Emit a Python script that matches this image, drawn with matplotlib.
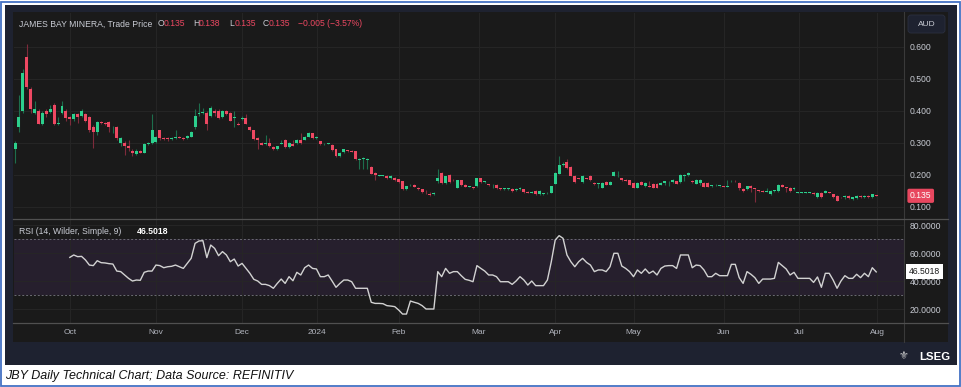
import matplotlib.pyplot as plt
import matplotlib.transforms as mtransforms
from matplotlib.patches import Rectangle, FancyBboxPatch
from matplotlib.lines import Line2D
import numpy as np

plt.rcParams['font.family'] = ['Liberation Sans', 'DejaVu Sans']

# Daily candles (AUD), one per trading day
opens = [0.280, 0.350, 0.400, 0.570, 0.470, 0.395, 0.400, 0.360, 0.400, 0.397,
         0.420, 0.358, 0.395, 0.400, 0.380, 0.374, 0.390, 0.384, 0.390, 0.380,
         0.350, 0.335, 0.367, 0.362, 0.367, 0.349, 0.350, 0.300, 0.300, 0.290,
         0.275, 0.265, 0.275, 0.270, 0.297, 0.300, 0.302, 0.340, 0.317, 0.315,
         0.313, 0.316, 0.320, 0.317, 0.315, 0.320, 0.350, 0.390, 0.395, 0.395,
         0.385, 0.400, 0.400, 0.380, 0.400, 0.395, 0.378, 0.360, 0.376, 0.377,
         0.350, 0.340, 0.316, 0.300, 0.296, 0.300, 0.287, 0.280, 0.298, 0.310,
         0.287, 0.297, 0.300, 0.310, 0.310, 0.320, 0.330, 0.315, 0.305, 0.296,
         0.298, 0.295, 0.280, 0.258, 0.272, 0.276, 0.276, 0.274, 0.248, 0.250,
         0.248, 0.225, 0.206, 0.198, 0.198, 0.197, 0.190, 0.192, 0.186, 0.180,
         0.155, 0.168, 0.170, 0.160, 0.155, 0.145, 0.142, 0.140, 0.180, 0.206,
         0.175, 0.200, 0.185, 0.160, 0.183, 0.170, 0.163, 0.162, 0.165, 0.190,
         0.178, 0.171, 0.168, 0.170, 0.158, 0.156, 0.156, 0.157, 0.152, 0.156,
         0.155, 0.147, 0.145, 0.150, 0.141, 0.141, 0.143, 0.145, 0.173, 0.204,
         0.230, 0.240, 0.225, 0.198, 0.190, 0.178, 0.190, 0.198, 0.175, 0.172,
         0.160, 0.178, 0.170, 0.198, 0.205, 0.190, 0.184, 0.183, 0.175, 0.160,
         0.178, 0.165, 0.166, 0.173, 0.173, 0.170, 0.175, 0.177, 0.178, 0.180,
         0.178, 0.198, 0.200, 0.180, 0.173, 0.176, 0.176, 0.175, 0.166, 0.168,
         0.165, 0.165, 0.164, 0.180, 0.181, 0.175, 0.157, 0.155, 0.166, 0.158,
         0.152, 0.150, 0.148, 0.140, 0.150, 0.150, 0.170, 0.162, 0.160, 0.155,
         0.145, 0.145, 0.145, 0.145, 0.145, 0.130, 0.145, 0.145, 0.145, 0.140,
         0.135, 0.130, 0.130, 0.134, 0.125, 0.128, 0.134, 0.130, 0.134, 0.130,
         0.135]
highs = [0.305, 0.450, 0.530, 0.610, 0.475, 0.430, 0.405, 0.400, 0.405, 0.420,
         0.425, 0.380, 0.430, 0.405, 0.385, 0.395, 0.395, 0.405, 0.395, 0.385,
         0.355, 0.370, 0.370, 0.366, 0.370, 0.352, 0.352, 0.320, 0.305, 0.310,
         0.280, 0.280, 0.278, 0.300, 0.303, 0.390, 0.322, 0.342, 0.320, 0.318,
         0.318, 0.340, 0.323, 0.320, 0.325, 0.338, 0.405, 0.425, 0.410, 0.400,
         0.415, 0.405, 0.405, 0.402, 0.402, 0.398, 0.400, 0.366, 0.383, 0.390,
         0.352, 0.342, 0.318, 0.302, 0.325, 0.315, 0.290, 0.292, 0.310, 0.312,
         0.302, 0.310, 0.312, 0.330, 0.322, 0.333, 0.332, 0.322, 0.307, 0.300,
         0.300, 0.297, 0.282, 0.272, 0.282, 0.278, 0.278, 0.276, 0.252, 0.255,
         0.252, 0.228, 0.208, 0.201, 0.201, 0.199, 0.199, 0.194, 0.188, 0.182,
         0.167, 0.171, 0.172, 0.162, 0.157, 0.152, 0.147, 0.147, 0.220, 0.210,
         0.198, 0.202, 0.187, 0.185, 0.185, 0.172, 0.167, 0.164, 0.192, 0.192,
         0.182, 0.173, 0.172, 0.172, 0.160, 0.160, 0.160, 0.159, 0.158, 0.161,
         0.157, 0.149, 0.149, 0.152, 0.152, 0.144, 0.147, 0.167, 0.208, 0.260,
         0.240, 0.250, 0.227, 0.200, 0.192, 0.200, 0.192, 0.200, 0.177, 0.176,
         0.177, 0.180, 0.180, 0.212, 0.212, 0.192, 0.186, 0.185, 0.177, 0.177,
         0.180, 0.177, 0.180, 0.175, 0.175, 0.177, 0.182, 0.181, 0.187, 0.182,
         0.202, 0.202, 0.208, 0.183, 0.187, 0.187, 0.178, 0.177, 0.170, 0.172,
         0.167, 0.167, 0.185, 0.183, 0.183, 0.177, 0.159, 0.167, 0.168, 0.160,
         0.154, 0.152, 0.158, 0.152, 0.153, 0.172, 0.172, 0.164, 0.162, 0.162,
         0.147, 0.147, 0.147, 0.147, 0.147, 0.147, 0.147, 0.152, 0.146, 0.142,
         0.137, 0.131, 0.136, 0.136, 0.132, 0.137, 0.136, 0.136, 0.136, 0.142,
         0.138]
lows = [0.237, 0.335, 0.395, 0.470, 0.395, 0.390, 0.358, 0.355, 0.380, 0.395,
        0.355, 0.355, 0.390, 0.370, 0.355, 0.370, 0.362, 0.380, 0.365, 0.335,
        0.284, 0.325, 0.360, 0.355, 0.335, 0.330, 0.310, 0.290, 0.263, 0.275,
        0.260, 0.262, 0.268, 0.268, 0.295, 0.298, 0.300, 0.310, 0.308, 0.305,
        0.308, 0.312, 0.315, 0.310, 0.313, 0.318, 0.345, 0.385, 0.392, 0.340,
        0.380, 0.385, 0.375, 0.378, 0.388, 0.368, 0.350, 0.355, 0.372, 0.358,
        0.338, 0.310, 0.280, 0.293, 0.294, 0.288, 0.278, 0.278, 0.296, 0.285,
        0.285, 0.290, 0.298, 0.298, 0.308, 0.318, 0.313, 0.313, 0.295, 0.294,
        0.296, 0.275, 0.255, 0.256, 0.270, 0.273, 0.271, 0.248, 0.220, 0.220,
        0.220, 0.202, 0.185, 0.196, 0.196, 0.188, 0.188, 0.182, 0.176, 0.152,
        0.153, 0.166, 0.161, 0.154, 0.145, 0.140, 0.135, 0.138, 0.176, 0.173,
        0.173, 0.176, 0.181, 0.158, 0.166, 0.161, 0.161, 0.157, 0.163, 0.176,
        0.176, 0.167, 0.160, 0.155, 0.154, 0.154, 0.154, 0.147, 0.150, 0.154,
        0.144, 0.143, 0.143, 0.139, 0.139, 0.139, 0.141, 0.143, 0.171, 0.202,
        0.228, 0.220, 0.196, 0.176, 0.186, 0.176, 0.186, 0.181, 0.170, 0.160,
        0.158, 0.168, 0.168, 0.196, 0.193, 0.181, 0.180, 0.168, 0.158, 0.158,
        0.168, 0.163, 0.162, 0.158, 0.158, 0.168, 0.170, 0.166, 0.176, 0.171,
        0.176, 0.180, 0.198, 0.175, 0.171, 0.168, 0.161, 0.161, 0.164, 0.166,
        0.163, 0.163, 0.162, 0.178, 0.178, 0.153, 0.147, 0.153, 0.148, 0.115,
        0.148, 0.146, 0.146, 0.138, 0.148, 0.148, 0.161, 0.148, 0.148, 0.153,
        0.144, 0.144, 0.144, 0.144, 0.138, 0.128, 0.128, 0.143, 0.144, 0.128,
        0.118, 0.129, 0.125, 0.125, 0.123, 0.126, 0.128, 0.128, 0.129, 0.128,
        0.135]
closes = [0.300, 0.380, 0.520, 0.475, 0.405, 0.405, 0.360, 0.395, 0.390, 0.405,
          0.360, 0.362, 0.415, 0.377, 0.374, 0.390, 0.380, 0.400, 0.370, 0.340,
          0.335, 0.367, 0.362, 0.358, 0.350, 0.351, 0.315, 0.317, 0.290, 0.283,
          0.270, 0.275, 0.270, 0.297, 0.300, 0.340, 0.320, 0.315, 0.313, 0.312,
          0.316, 0.320, 0.317, 0.312, 0.322, 0.335, 0.385, 0.395, 0.398, 0.360,
          0.410, 0.395, 0.377, 0.400, 0.390, 0.370, 0.380, 0.357, 0.378, 0.360,
          0.340, 0.313, 0.310, 0.295, 0.300, 0.290, 0.280, 0.290, 0.300, 0.287,
          0.300, 0.292, 0.310, 0.300, 0.320, 0.330, 0.315, 0.320, 0.297, 0.298,
          0.299, 0.277, 0.258, 0.270, 0.280, 0.275, 0.273, 0.250, 0.250, 0.253,
          0.250, 0.204, 0.199, 0.200, 0.200, 0.190, 0.197, 0.185, 0.178, 0.155,
          0.165, 0.170, 0.163, 0.156, 0.147, 0.143, 0.138, 0.145, 0.190, 0.175,
          0.196, 0.178, 0.183, 0.183, 0.168, 0.163, 0.165, 0.159, 0.190, 0.178,
          0.180, 0.169, 0.170, 0.158, 0.156, 0.158, 0.158, 0.150, 0.156, 0.159,
          0.146, 0.145, 0.147, 0.141, 0.150, 0.142, 0.145, 0.165, 0.206, 0.230,
          0.233, 0.222, 0.198, 0.178, 0.188, 0.198, 0.188, 0.183, 0.172, 0.174,
          0.175, 0.170, 0.178, 0.210, 0.207, 0.183, 0.182, 0.170, 0.160, 0.175,
          0.170, 0.175, 0.164, 0.160, 0.160, 0.175, 0.180, 0.179, 0.185, 0.173,
          0.200, 0.200, 0.206, 0.177, 0.185, 0.185, 0.163, 0.163, 0.168, 0.170,
          0.166, 0.164, 0.166, 0.181, 0.180, 0.160, 0.150, 0.165, 0.160, 0.156,
          0.150, 0.148, 0.150, 0.150, 0.151, 0.170, 0.163, 0.160, 0.150, 0.160,
          0.146, 0.146, 0.146, 0.146, 0.140, 0.145, 0.130, 0.150, 0.145, 0.130,
          0.120, 0.130, 0.134, 0.128, 0.130, 0.135, 0.130, 0.134, 0.131, 0.140,
          0.135]

# RSI(14), starts on the 15th candle
rsi_start = 14
rsi = [56.9, 58.6, 57.4, 57.6, 55.0, 51.4, 51.0, 54.5, 53.1, 52.9,
       52.4, 52.1, 47.1, 46.7, 44.3, 41.9, 40.0, 40.7, 40.5, 46.2,
       47.1, 47.1, 51.4, 51.0, 49.5, 50.2, 50.5, 51.4, 50.2, 49.0,
       52.6, 56.2, 66.9, 68.6, 68.8, 56.7, 65.7, 63.3, 58.1, 61.0,
       58.6, 53.8, 55.7, 50.7, 52.6, 49.0, 45.5, 41.2, 40.0, 37.6,
       37.6, 36.7, 34.8, 38.3, 41.4, 38.3, 43.1, 40.2, 46.2, 44.3,
       49.5, 51.4, 49.0, 48.6, 43.1, 43.1, 44.3, 40.0, 35.5, 38.3,
       40.7, 40.7, 39.5, 34.8, 34.8, 34.8, 34.8, 24.8, 24.0, 24.0,
       23.8, 22.4, 22.1, 21.7, 19.3, 16.4, 16.4, 25.7, 24.8, 24.0,
       22.4, 20.0, 20.0, 20.0, 46.7, 43.1, 49.0, 45.5, 46.7, 46.7,
       43.8, 41.2, 40.5, 39.5, 51.0, 49.0,
       47.1, 44.3, 44.3, 43.1, 39.5, 39.5, 39.5, 37.6, 40.0, 43.1,
       40.7, 37.1, 40.0, 36.7, 36.7, 36.7, 40.7, 53.8, 69.3, 72.4,
       70.5, 58.6, 53.8, 50.2, 53.8, 56.2, 53.3, 51.4, 46.7, 47.9,
       47.9, 46.7, 50.2, 59.8, 59.8, 50.7, 49.0, 46.7, 43.1, 47.9,
       45.5, 48.6, 45.5, 47.1, 44.3, 49.0, 50.7, 51.0, 51.0, 49.0,
       58.6, 58.6, 58.6, 49.5, 51.4, 51.0, 47.9, 43.1, 43.1, 45.5,
       43.8, 43.8, 43.8, 51.9, 51.9, 42.4, 38.3, 46.7, 44.8, 42.4,
       38.3, 41.4, 41.4, 41.4, 41.9, 53.3, 51.0, 48.6, 44.3, 46.2,
       41.9, 41.9, 41.9, 41.9, 39.0, 42.9, 35.5, 45.5, 45.5, 40.7,
       34.8, 40.0, 43.8, 41.9, 41.9, 44.8, 42.4, 45.5, 43.1, 49.5,
       46.5018]

month_labels = ["Oct", "Nov", "Dec", "2024", "Feb", "Mar", "Apr", "May", "Jun", "Jul", "Aug"]
month_pos = [14.0, 36.0, 58.0, 77.1, 98.1, 118.5, 138.0, 158.0, 181.0, 200.4, 220.2]

price_ticks = [0.1, 0.2, 0.3, 0.4, 0.5, 0.6]
rsi_ticks = [20, 40, 60, 80]

# colours
panel = "#1a1a1a"
frame = "#1e2230"
grid_c = "#262626"
text_c = "#c9ccd4"
green, red = "#2ccf8d", "#ee4862"
green_w, red_w = "#1d6e4d", "#7e2b3b"

W, H = 962, 387
fig = plt.figure(figsize=(W / 100, H / 100), dpi=100)
fig.patch.set_facecolor("white")
# pixel coordinates, y downwards
T = mtransforms.Affine2D().scale(1 / W, -1 / H).translate(0, 1) + fig.transFigure


def px_rect(x0, y0, x1, y1, **kw):
    r = Rectangle((x0, y0), x1 - x0, y1 - y0, transform=T, **kw)
    fig.add_artist(r)


def px_line(x0, y0, x1, y1, **kw):
    fig.add_artist(Line2D([x0, x1], [y0, y1], transform=T, **kw))


def px_text(x, y, s, **kw):
    fig.text(x, y, s, transform=T, **kw)


px_rect(5, 5, 957, 365, facecolor=frame, edgecolor="none", zorder=-10)
px_rect(13, 12, 948, 342, facecolor=panel, edgecolor="none", zorder=-9)
px_rect(1.5, 1.5, 960, 385.5, facecolor="none", edgecolor="#4472c4", lw=1.3, zorder=10)

ax1 = fig.add_axes([14 / W, 1 - 219 / H, 890 / W, 206 / H])
ax2 = fig.add_axes([14 / W, 1 - 323 / H, 890 / W, 104 / H], sharex=ax1)

for ax in (ax1, ax2):
    ax.set_facecolor(panel)
    for s in ax.spines.values():
        s.set_visible(False)
    ax.yaxis.tick_right()
    ax.tick_params(axis="both", length=0, labelsize=6.2, labelcolor=text_c)
    ax.tick_params(axis="y", pad=4.3)
    ax.set_xticks(month_pos)
    ax.grid(True, color=grid_c, lw=0.7)
    ax.set_axisbelow(True)

ax1.tick_params(axis="x", labelbottom=False)
ax2.set_xticklabels(month_labels)
ax2.tick_params(axis="x", pad=4.5, labelsize=6, labelcolor="#b2b5be")

# candles
o = np.array(opens)
c = np.array(closes)
idx = np.arange(len(o))
up = c > o
ax1.vlines(idx, lows, highs, colors=np.where(up, green_w, red_w), lw=0.8, zorder=2)
ax1.bar(idx, np.maximum(np.abs(c - o), 0.0022), bottom=np.minimum(o, c), width=0.76,
        color=np.where(up, green, red), lw=0, zorder=3)
ax1.set_xlim(-0.26, 227.1)
ax1.set_ylim(0.0625, 0.70625)
ax1.set_yticks(price_ticks)
ax1.set_yticklabels([f"{v:.3f}" for v in price_ticks])

# RSI
ax2.axhspan(30, 70, color="#261f2d", lw=0, zorder=0.5)
for lvl in (70, 30):
    ax2.axhline(lvl, color="#6b6b73", lw=0.7, ls=(0, (2, 2)), zorder=1)
ax2.plot(np.arange(rsi_start, rsi_start + len(rsi)), rsi, color="#d2d2d2", lw=1.0, zorder=3)
ax2.set_ylim(10, 84.3)
ax2.set_yticks(rsi_ticks)
ax2.set_yticklabels([f"{v:.4f}" for v in rsi_ticks])

# last value tags
ax1.annotate(f"{closes[-1]:.3f}", xy=(1, closes[-1]), xycoords=("axes fraction", "data"),
             xytext=(4.3, 0), textcoords="offset points", va="center", ha="left",
             fontsize=6.2, color="white",
             bbox=dict(boxstyle="round,pad=0.3,rounding_size=0.2", fc="#e8475f", ec="none"))
ax2.annotate(f"{rsi[-1]:.4f}", xy=(1, rsi[-1]), xycoords=("axes fraction", "data"),
             xytext=(3.5, 0), textcoords="offset points", va="center", ha="left",
             fontsize=6.2, color="#1a1a1a",
             bbox=dict(boxstyle="square,pad=0.35", fc="white", ec="none"))

# panel separators
px_line(904, 12, 904, 342, color="#3a3a3a", lw=0.8)
px_line(13, 219, 948, 219, color="#505050", lw=0.9)
px_line(13, 323, 948, 323, color="#505050", lw=0.9)

# header texts
px_text(19, 24, "JAMES BAY MINERA, Trade Price", fontsize=6.2, color=text_c, va="center")
for x, s, col in [(157.5, "O", text_c), (164, "0.135", red),
                  (193, "H", text_c), (199, "0.138", red),
                  (229, "L", text_c), (234.5, "0.135", red),
                  (263, "C", text_c), (268.5, "0.135", red),
                  (298, "\u22120.005 (\u22123.57%)", red)]:
    px_text(x, 24, s, fontsize=6.2, color=col, va="center")
px_text(19, 231, "RSI (14, Wilder, Simple, 9)", fontsize=6.2, color=text_c, va="center")
px_text(136.5, 231, f"{rsi[-1]:.4f}", fontsize=6.2, color="white", va="center", fontweight="bold")

# currency box
fig.add_artist(FancyBboxPatch((908, 15), 37, 18, boxstyle="round,pad=0,rounding_size=3",
                              transform=T, fc="#1e2230", ec="#2b3040", lw=0.6))
px_text(926.5, 24, "AUD", fontsize=6, color=text_c, va="center", ha="center")

# logo + caption
px_text(904, 356, "\u269c", fontsize=8, color="#d0d0d0", va="center", ha="center",
        family="DejaVu Sans")
px_text(919, 357, "LSEG", fontsize=8.2, color="white", fontweight="bold", va="center")
px_text(5, 376, "JBY Daily Technical Chart; Data Source: REFINITIV", fontsize=9,
        style="italic", color="#111111", va="center")

plt.savefig("out.png", dpi=100, facecolor=fig.get_facecolor())
